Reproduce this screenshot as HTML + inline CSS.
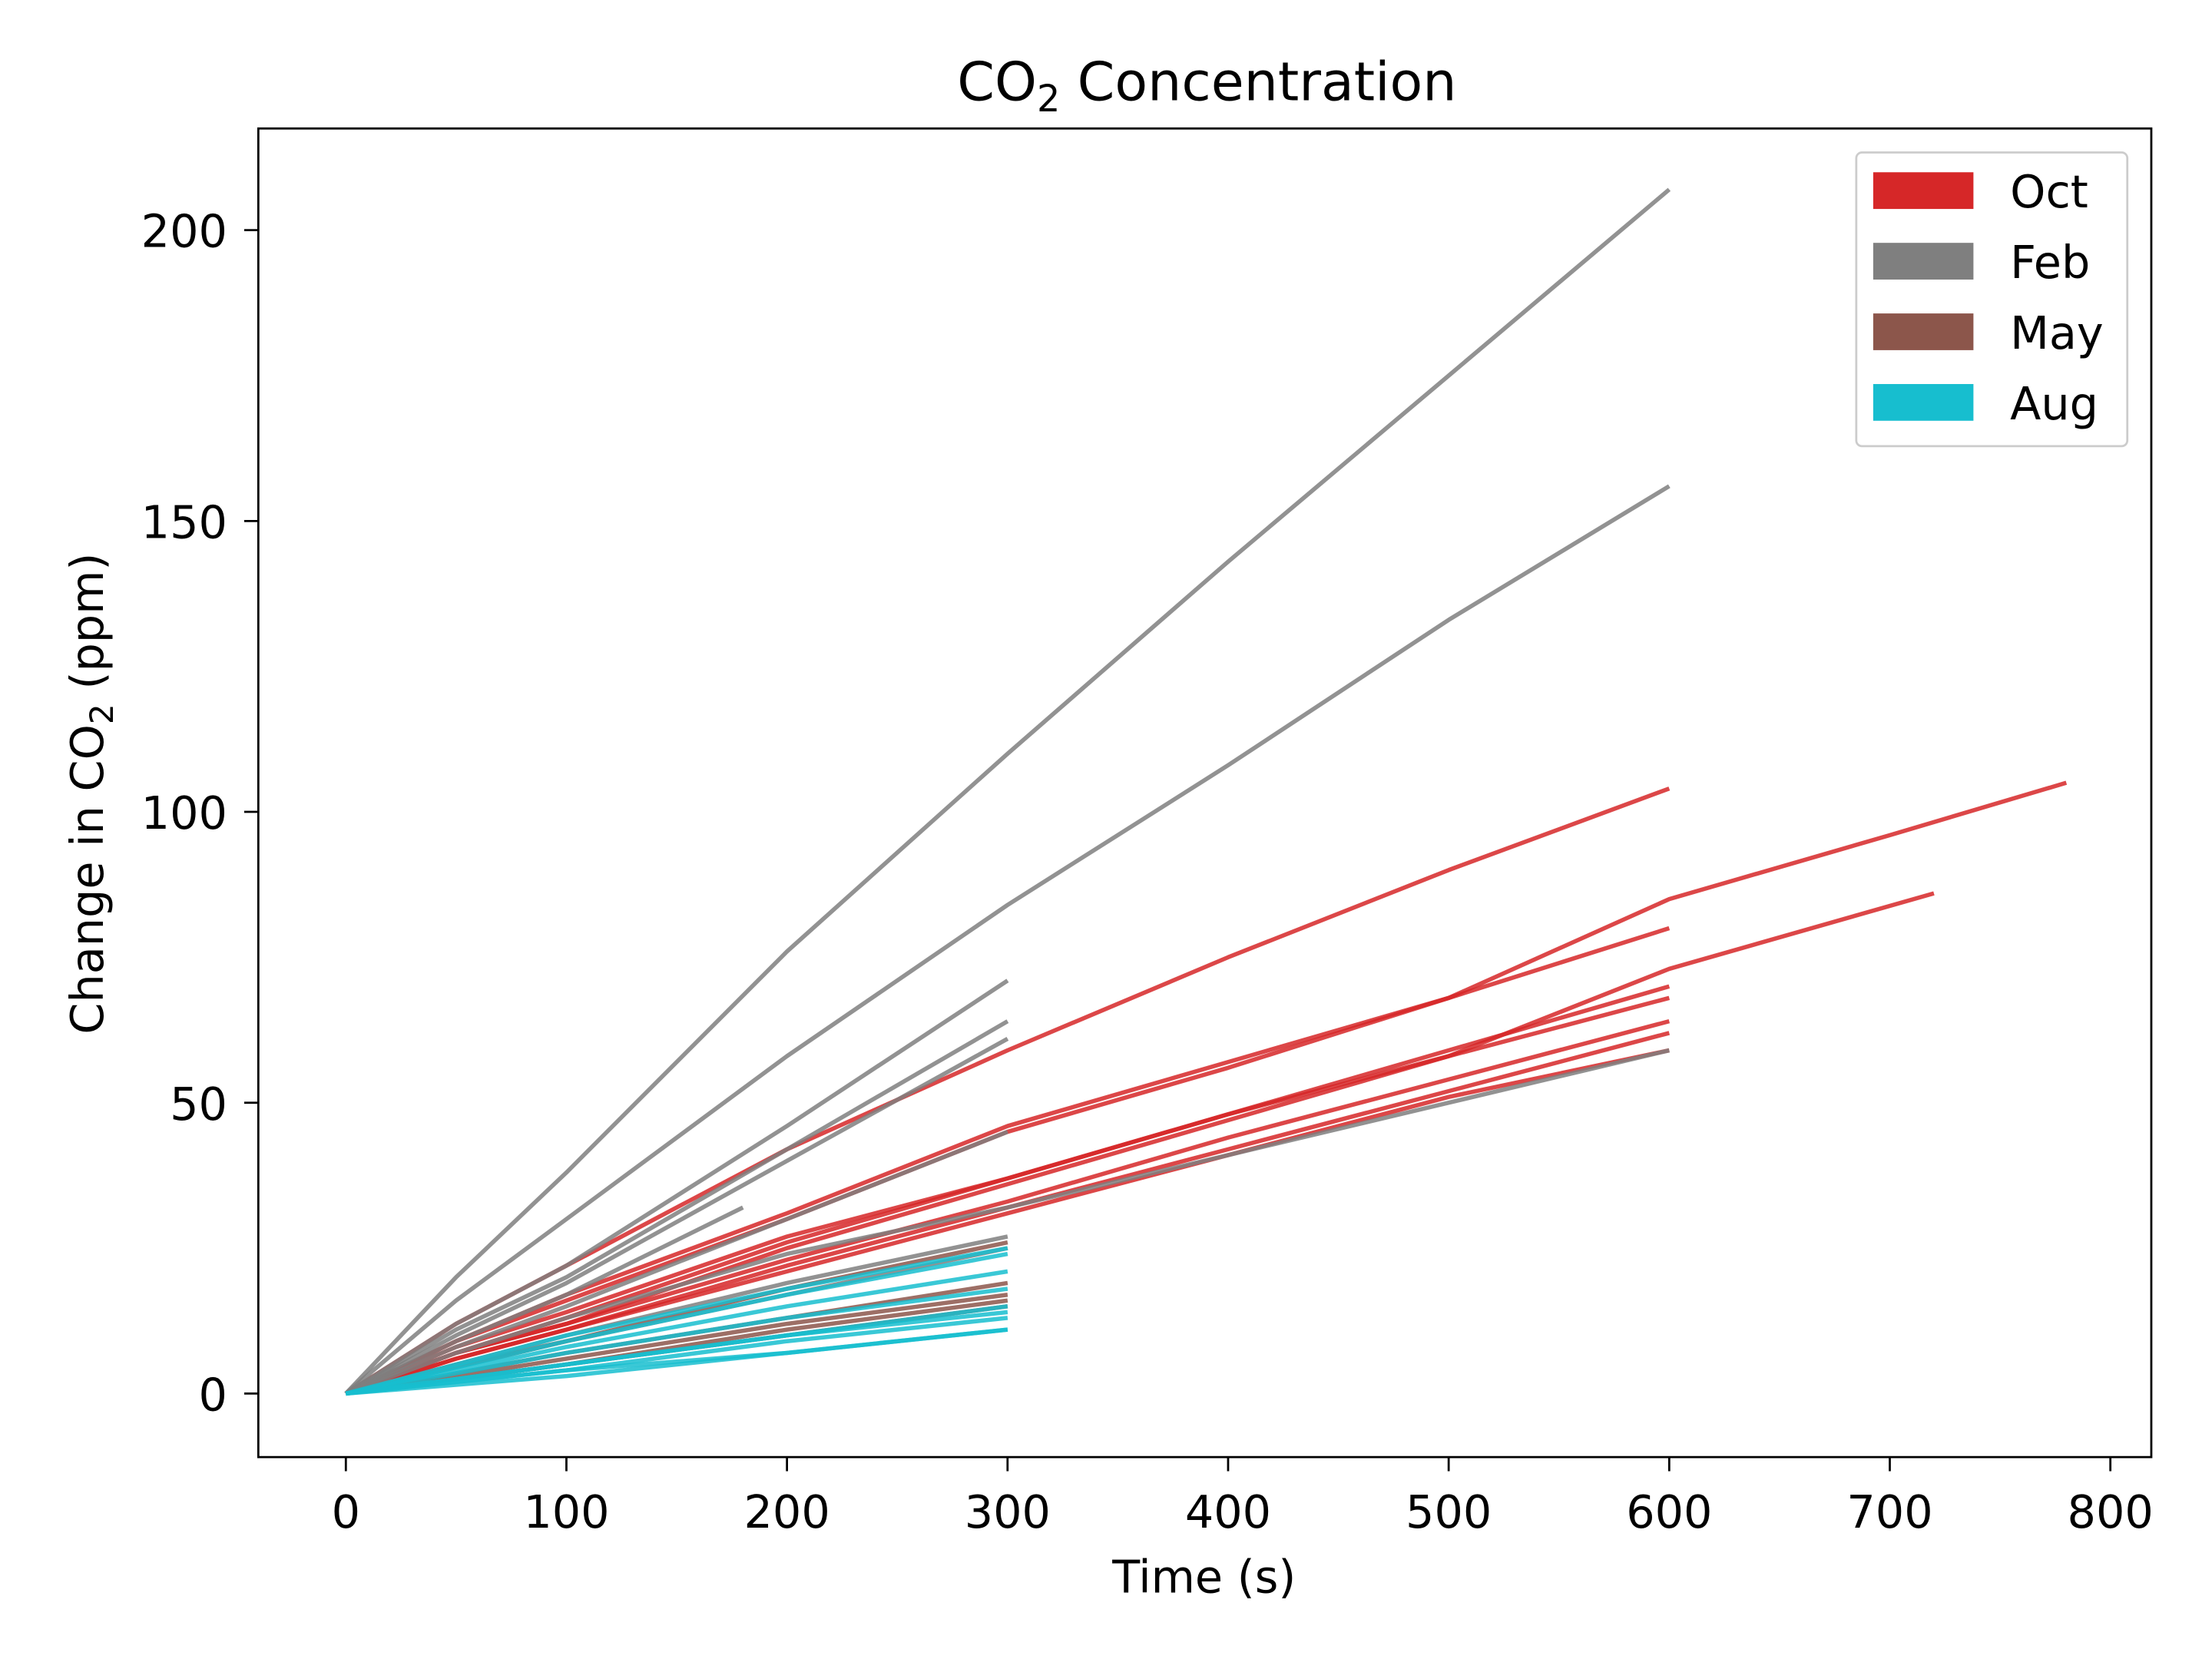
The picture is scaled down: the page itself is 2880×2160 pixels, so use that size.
<!DOCTYPE html>
<html><head><meta charset="utf-8"><style>
html,body{margin:0;padding:0;background:#fff;}
svg{display:block;font-family:"DejaVu Sans","Liberation Sans",sans-serif;}
</style></head><body>
<svg id="chart" width="2880" height="2160" viewBox="0 0 1567 1175" preserveAspectRatio="none" xmlns="http://www.w3.org/2000/svg">
<rect x="0" y="0" width="1567" height="1175" fill="#fff"/>
<text x="855" y="71" text-anchor="middle" font-size="38">CO<tspan font-size="26" dy="8">2</tspan><tspan dy="-8"> Concentration</tspan></text>
<g id="plot"></g>
<g id="axes"></g>
<text x="853" y="1128" text-anchor="middle" font-size="32">Time (s)</text>
<text transform="translate(73,562) rotate(-90)" text-anchor="middle" font-size="32">Change in CO<tspan font-size="23" dy="7">2</tspan><tspan dy="-7"> (ppm)</tspan></text>
<g>
<rect x="1315" y="108" width="192" height="208" rx="4" fill="#fff" stroke="#ccc" stroke-width="1.5" fill-opacity="0.8"/>
<rect x="1327" y="122" width="71" height="26" fill="#d62728"/>
<text x="1424" y="147" font-size="32">Oct</text>
<rect x="1327" y="172" width="71" height="26" fill="#7f7f7f"/>
<text x="1424" y="197" font-size="32">Feb</text>
<rect x="1327" y="222" width="71" height="26" fill="#8c564b"/>
<text x="1424" y="247" font-size="32">May</text>
<rect x="1327" y="272" width="71" height="26" fill="#17becf"/>
<text x="1424" y="297" font-size="32">Aug</text>
</g>
</svg>
<script>
const xTicks = [0,100,200,300,400,500,600,700,800];
const yTicks = [0,50,100,150,200];
const octTimes = [[0,50,100,200,300,400,500,600],[0,50,100,200,300,400,500,600,700,780],[0,50,100,200,300,400,500,600,720],[0,50,100,200,300,400,500,600],[0,50,100,200,300,400,500,600],[0,50,100,200,300,400,500,600],[0,50,100,200,300,400,500,600],[0,50,100,200,300,400,500,600],[0,50,100,200,300,400,500,600]];
const octValues = [[0,12,22,42,59,75,90,104],[0,9,17,31,46,57,68,85,96,105],[0,8,14,27,37,48,58,73,86],[0,9,16,30,45,56,68,80],[0,7,13,26,37,48,59,70],[0,7,12,25,36,47,58,68],[0,7,12,23,33,44,54,64],[0,6,11,22,32,42,52,62],[0,6,11,21,31,41,51,59]];
const febTimes = [[0,50,100,200,300,400,500,600],[0,50,100,200,300,400,500,600],[0,50,100,200,300],[0,50,100,200,300],[0,50,100,200,300],[0,50,100,200,300],[0,50,100,180],[0,50,100,200,300,400,500,600],[0,50,100,200,300],[0,50,100,200,300]];
const febValues = [[0,20,38,76,110,143,175,207],[0,16,30,58,84,108,133,156],[0,12,22,46,71],[0,11,20,42,64],[0,10,19,40,61],[0,8,15,30,45],[0,9,17,32],[0,7,13,24,32,41,50,59],[0,5,10,19,27],[0,5,9,17,25]];
const mayTimes = [[0,100,200,300],[0,100,200,300],[0,100,200,300],[0,100,200,300],[0,100,200,300]];
const mayValues = [[0,9,18,26],[0,7,13,19],[0,6,12,17],[0,5,11,16],[0,5,10,15]];
const augTimes = [[0,100,200,300],[0,100,200,300],[0,100,200,300],[0,100,200,300],[0,100,200,300],[0,100,200,300],[0,100,200,300],[0,100,200,300],[0,100,200,300]];
const augValues = [[0,10,18,25],[0,9,17,24],[0,8,15,21],[0,7,13,18],[0,5,10,15],[0,5,10,14],[0,4,9,13],[0,4,7,11],[0,3,7,11]];

const NS = "http://www.w3.org/2000/svg";
const L=183,R=1524,T=91,B=1032;
function sx(v){return 245+(v-0)*(1495-245)/800;}
function sy(v){return 987-(v-0)*(987-163)/200;}
const plot=document.getElementById('plot');
const axes=document.getElementById('axes');
function drawSeries(times, values, color, name){
  for(let i=0;i<values.length;i++){
    const pl=document.createElementNS(NS,'polyline');
    const pts=times[i].map((t,j)=>sx(t).toFixed(1)+','+sy(values[i][j]).toFixed(1)).join(' ');
    pl.setAttribute('points',pts);
    pl.setAttribute('fill','none');
    pl.setAttribute('stroke',color);
    pl.setAttribute('stroke-width','3');
    pl.setAttribute('stroke-opacity','0.85');
    pl.setAttribute('stroke-linejoin','round');
    
    
    plot.appendChild(pl);
  }
}
drawSeries(octTimes,octValues,'#d62728','oct');
drawSeries(febTimes,febValues,'#7f7f7f','feb');
drawSeries(mayTimes,mayValues,'#8c564b','may');
drawSeries(augTimes,augValues,'#17becf','aug');

const frame=document.createElementNS(NS,'rect');
frame.setAttribute('x',L);frame.setAttribute('y',T);frame.setAttribute('width',R-L);frame.setAttribute('height',B-T);
frame.setAttribute('fill','none');frame.setAttribute('stroke','#000');frame.setAttribute('stroke-width','1.5');


axes.appendChild(frame);
xTicks.forEach(v=>{
  const x=sx(v);
  const ln=document.createElementNS(NS,'line');
  ln.setAttribute('x1',x);ln.setAttribute('x2',x);ln.setAttribute('y1',B);ln.setAttribute('y2',B+10);
  ln.setAttribute('stroke','#000');ln.setAttribute('stroke-width','1.5');
  
  
  axes.appendChild(ln);
  const tx=document.createElementNS(NS,'text');
  tx.setAttribute('x',x);tx.setAttribute('y',B+50);tx.setAttribute('text-anchor','middle');tx.setAttribute('font-size','32');
  tx.textContent=v;
  
  
  axes.appendChild(tx);
});
yTicks.forEach(v=>{
  const y=sy(v);
  const ln=document.createElementNS(NS,'line');
  ln.setAttribute('x1',L-10);ln.setAttribute('x2',L);ln.setAttribute('y1',y);ln.setAttribute('y2',y);
  ln.setAttribute('stroke','#000');ln.setAttribute('stroke-width','1.5');
  
  
  axes.appendChild(ln);
  const tx=document.createElementNS(NS,'text');
  tx.setAttribute('x',L-22);tx.setAttribute('y',y+12);tx.setAttribute('text-anchor','end');tx.setAttribute('font-size','32');
  tx.textContent=v;
  
  
  axes.appendChild(tx);
});
</script>
</body></html>
